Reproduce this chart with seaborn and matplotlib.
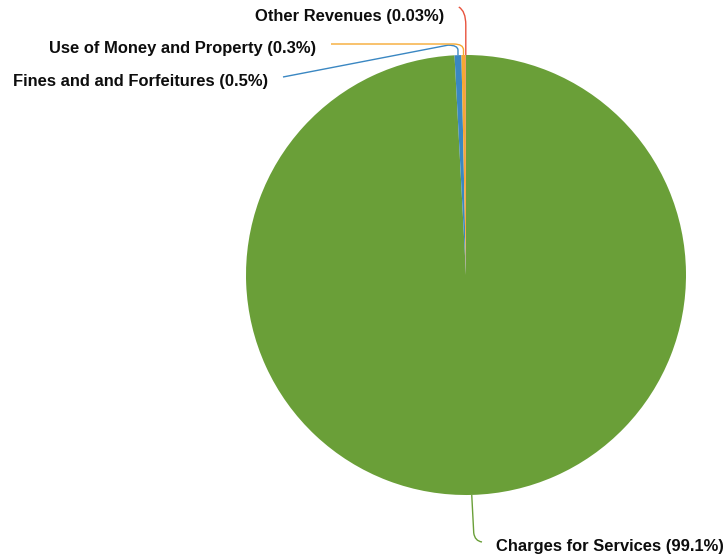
import numpy as np
import matplotlib
matplotlib.use("Agg")
import matplotlib.pyplot as plt
import seaborn as sns
from matplotlib.path import Path
from matplotlib.patches import PathPatch

categories = ["Charges for Services", "Fines and and Forfeitures",
              "Use of Money and Property", "Other Revenues"]
values = [99.1, 0.5, 0.3, 0.03]
pct_labels = ["99.1%", "0.5%", "0.3%", "0.03%"]
colors = ["#6a9f38", "#3a87c2", "#f6a932", "#e8533d"]

sns.set_theme(style="white")
plt.rcParams['font.family'] = ['Liberation Sans', 'DejaVu Sans']

W, H = 724, 559
CX, CY, R = 466, 275, 220
fig = plt.figure(figsize=(W / 100, H / 100), dpi=100)
ax = fig.add_axes([0, 0, 1, 1])
ax.axis("off")

wedges, _ = ax.pie(values, colors=colors, startangle=90, counterclock=False,
                   radius=1, center=(0, 0), wedgeprops=dict(linewidth=0))
ax.set_xlim(-CX / R, (W - CX) / R)
ax.set_ylim(-(H - CY) / R, CY / R)
ax.set_aspect("equal")


def px(x, y):
    return ((x - CX) / R, (CY - y) / R)


def edge_point(w):
    t = np.deg2rad((w.theta1 + w.theta2) / 2)
    return np.cos(t), np.sin(t)


# label layout (pixel positions)
label_pos = [(496, 545, "left"), (268, 80, "right"), (316, 47, "right"), (444, 15, "right")]

for i, w in enumerate(wedges):
    sx, sy = edge_point(w)
    lx, ly, ha = label_pos[i]
    ax.text(*px(lx, ly + 1.5), f"{categories[i]} ({pct_labels[i]})", ha=ha, va="center",
            fontsize=11.9, fontweight="bold", color="#0d0d0d")
    sxp, syp = CX + sx * R, CY - sy * R
    if i == 0:
        pts = [(sxp, syp), (sxp + 2, syp + 38), (sxp + 3, syp + 46), (lx - 14, ly - 3)]
        codes = [Path.MOVETO, Path.LINETO, Path.CURVE3, Path.CURVE3]
    elif i == 1:
        pts = [(sxp, syp), (sxp, syp - 5), (sxp, syp - 10), (sxp - 10, syp - 10), (lx + 15, ly - 3)]
        codes = [Path.MOVETO, Path.LINETO, Path.CURVE3, Path.CURVE3, Path.LINETO]
    elif i == 2:
        pts = [(sxp, syp), (sxp, syp - 5), (sxp, syp - 11), (sxp - 10, syp - 11), (lx + 15, ly - 3)]
        codes = [Path.MOVETO, Path.LINETO, Path.CURVE3, Path.CURVE3, Path.LINETO]
    else:
        pts = [(sxp, syp), (sxp, syp - 30), (sxp, syp - 44), (sxp - 7, syp - 48)]
        codes = [Path.MOVETO, Path.LINETO, Path.CURVE3, Path.CURVE3]
    verts = [px(x, y) for x, y in pts]
    ax.add_patch(PathPatch(Path(verts, codes), facecolor="none",
                           edgecolor=colors[i], linewidth=1.0))

fig.savefig("out.png", dpi=100)
